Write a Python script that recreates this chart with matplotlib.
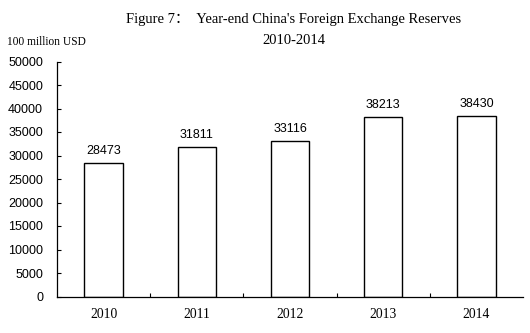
import matplotlib
matplotlib.use("Agg")
import matplotlib.pyplot as plt
from matplotlib.ticker import FixedLocator

years = ["2010", "2011", "2012", "2013", "2014"]
reserves = [28473, 31811, 33116, 38213, 38430]
yticks = list(range(0, 50001, 5000))

serif = ["Liberation Serif", "Noto Sans CJK SC"]
sans = ["Liberation Sans", "DejaVu Sans"]

fig = plt.figure(figsize=(5.30, 3.33), dpi=100)
W, H = 530, 333
left, right, bottom, top = 57, 523, 296.5, 61.5
ax = fig.add_axes([left / W, 1 - bottom / H, (right - left) / W, (bottom - top) / H])

x = list(range(len(years)))
ax.bar(x, reserves, width=0.41, color="white", edgecolor="black", linewidth=1.0)
for xi, v in zip(x, reserves):
    ax.annotate(str(v), (xi, v), xytext=(0, 4), textcoords="offset points",
                ha="center", va="bottom", fontsize=9, family=sans)

ax.set_xlim(-0.5, len(years) - 0.5)
ax.set_ylim(0, 50000)
ax.set_yticks(yticks)
ax.set_yticklabels([str(t) for t in yticks], fontsize=9, family=sans)
ax.set_xticks(x)
ax.set_xticklabels(years, fontsize=9.8, family=serif)
ax.tick_params(axis="x", length=0, pad=8)
ax.xaxis.set_minor_locator(FixedLocator([i + 0.5 for i in range(len(years) - 1)]))
ax.tick_params(axis="x", which="minor", direction="in", length=3, width=0.8)
ax.tick_params(axis="y", direction="in", length=3, width=0.8, pad=10)
for s in ("top", "right"):
    ax.spines[s].set_visible(False)
for s in ("left", "bottom"):
    ax.spines[s].set_linewidth(0.9)

fig.text(294 / W, 1 - 20 / H, "Figure 7：  Year-end China's Foreign Exchange Reserves",
         ha="center", va="center", fontsize=10.5, family=serif)
fig.text(294 / W, 1 - 41 / H, "2010-2014", ha="center", va="center", fontsize=10.5, family=serif)
fig.text(7 / W, 1 - 42 / H, "100 million USD", ha="left", va="center", fontsize=8.3, family=serif)

fig.savefig("out.png", dpi=100)
